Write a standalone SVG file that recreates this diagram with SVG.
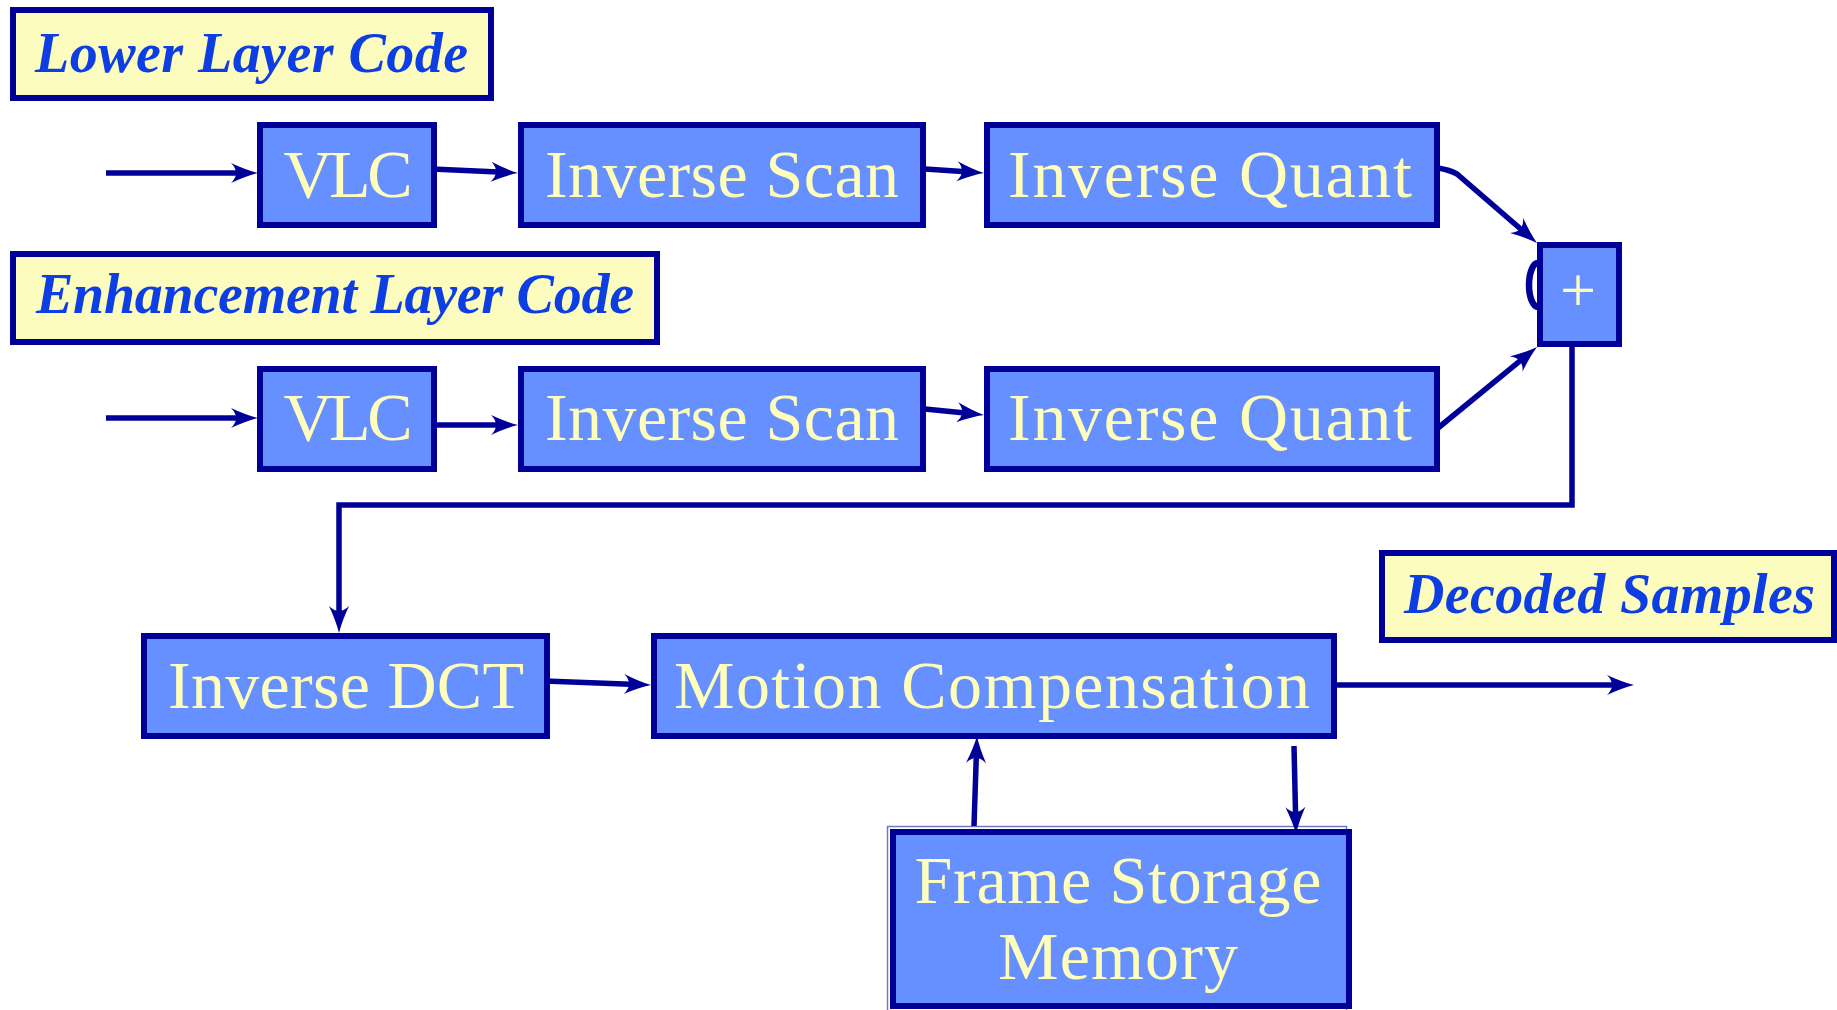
<svg xmlns="http://www.w3.org/2000/svg" width="1837" height="1010" viewBox="0 0 1837 1010">
<style>
.box{fill:#6690FF;stroke:#000099;stroke-width:6}
.lab{fill:#FCFCBE;stroke:#000099;stroke-width:6}
.t{font-family:"Liberation Serif","Times New Roman",serif;font-size:68px;fill:#FFFFBB;text-anchor:middle}
.lt{font-family:"Liberation Serif","Times New Roman",serif;font-size:56px;font-style:italic;font-weight:bold;fill:#0D3EE3}
.c{fill:none;stroke:#000099;stroke-width:5.5}
</style>
<defs>
<marker id="ah" viewBox="-30 -12 32 24" markerWidth="32" markerHeight="24" refX="-14" refY="0" orient="auto" markerUnits="userSpaceOnUse">
<path d="M0,0 Q-12,-3 -27,-10 Q-17,0 -27,10 Q-12,3 0,0 Z" fill="#000099"/>
</marker>
</defs>
<rect width="1837" height="1010" fill="#FFFFFF"/>
<g id="lower-label"><rect class="lab" x="13" y="10" width="478" height="88"/><text class="lt" x="35" y="72" textLength="433">Lower Layer Code</text></g>
<g id="enh-label"><rect class="lab" x="13" y="254" width="644" height="88"/><text class="lt" x="36" y="313" textLength="598">Enhancement Layer Code</text></g>
<g id="decoded-label"><rect class="lab" x="1382" y="553" width="452" height="87"/><text class="lt" x="1404" y="613" textLength="411">Decoded Samples</text></g>
<g id="vlc1"><rect class="box" x="260" y="125" width="174" height="100"/><text class="t" x="348" y="197" textLength="129">VLC</text></g>
<g id="scan1"><rect class="box" x="521" y="125" width="402" height="100"/><text class="t" x="722" y="197" textLength="354">Inverse Scan</text></g>
<g id="quant1"><rect class="box" x="987" y="125" width="450" height="100"/><text class="t" x="1210" y="197" textLength="404">Inverse Quant</text></g>
<g id="vlc2"><rect class="box" x="260" y="369" width="174" height="100"/><text class="t" x="348" y="440" textLength="129">VLC</text></g>
<g id="scan2"><rect class="box" x="521" y="369" width="402" height="100"/><text class="t" x="722" y="440" textLength="354">Inverse Scan</text></g>
<g id="quant2"><rect class="box" x="987" y="369" width="450" height="100"/><text class="t" x="1210" y="440" textLength="404">Inverse Quant</text></g>
<g id="sum"><path d="M1538,263 A9,22 0 0 0 1538,307" fill="none" stroke="#000099" stroke-width="6.5"/><rect class="box" x="1540" y="245" width="79" height="99"/><text class="t" x="1578" y="312" style="font-size:64px">+</text></g>
<g id="idct"><rect class="box" x="144" y="636" width="403" height="100"/><text class="t" x="346" y="708" textLength="356">Inverse DCT</text></g>
<g id="mc"><rect class="box" x="654" y="636" width="680" height="100"/><text class="t" x="992" y="708" textLength="636">Motion Compensation</text></g>
<g id="fsm"><rect x="887.5" y="826.5" width="459" height="190" fill="none" stroke="#7777BB" stroke-width="1.5"/><rect class="box" x="893" y="832" width="456" height="174"/><text class="t" x="1118" y="903" textLength="407">Frame Storage</text><text class="t" x="1118" y="979" textLength="240">Memory</text></g>
<g id="connectors">
<path class="c" d="M106,173 H244" marker-end="url(#ah)"/>
<path class="c" d="M432,169 L504,172.35" marker-end="url(#ah)"/>
<path class="c" d="M925,169 L970,172.05" marker-end="url(#ah)"/>
<path class="c" d="M1438,168 Q1450,170 1457,174 L1526.4,233.9" marker-end="url(#ah)"/>
<path class="c" d="M106,418 H244" marker-end="url(#ah)"/>
<path class="c" d="M431,425 H504" marker-end="url(#ah)"/>
<path class="c" d="M925,409 L970.07,413.6" marker-end="url(#ah)"/>
<path class="c" d="M1438,428 L1526.2,355.9" marker-end="url(#ah)"/>
<path class="c" d="M1572,347 V505 H339 V619" marker-end="url(#ah)"/>
<path class="c" d="M545,681 L637,684.5" marker-end="url(#ah)"/>
<path class="c" d="M1333,685 H1620" marker-end="url(#ah)"/>
<path class="c" d="M974,826 L976.5,750" marker-end="url(#ah)"/>
<path class="c" d="M1294,746 L1295.7,820" marker-end="url(#ah)"/>
</g>
</svg>
